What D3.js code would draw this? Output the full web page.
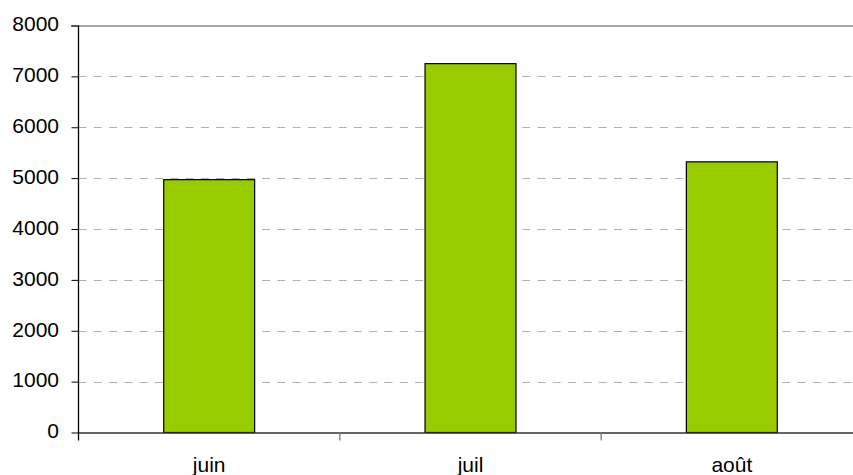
<!DOCTYPE html>
<html>
<head>
<meta charset="utf-8">
<script src="https://cdn.jsdelivr.net/npm/d3@7"></script>
<style>
  html, body { margin: 0; padding: 0; background: #fff; }
  svg { display: block; }
  text { font-family: "Liberation Sans", Arial, sans-serif; font-size: 21px; fill: #000; }
</style>
</head>
<body>
<div id="chart"></div>
<script>
// data
const months = ['juin', 'juil', 'août'];
const values = [4970, 7250, 5320];
const yTicks = [0, 1000, 2000, 3000, 4000, 5000, 6000, 7000, 8000];

let width = 853,
    height = 475,
    plotLeft = 78.5,
    plotRight = 862.5,
    plotTop = 25.5,
    plotBottom = 432.5;

let svg = d3.select('#chart')
    .append('svg')
    .attr('width', width)
    .attr('height', height);

let x = d3.scaleBand()
    .domain(months)
    .range([plotLeft, plotRight])
    .paddingInner(0.652)
    .paddingOuter(0.326);

let y = d3.scaleLinear()
    .domain([0, 8000])
    .range([plotBottom, plotTop]);

// dashed grid
svg.append('g')
    .selectAll('line')
    .data(yTicks.filter(d => d > 0 && d < 8000))
    .enter().append('line')
    .attr('x1', plotLeft)
    .attr('x2', plotRight)
    .attr('y1', d => Math.round(y(d)) + 0.5)
    .attr('y2', d => Math.round(y(d)) + 0.5)
    .attr('stroke', '#b0b0b0')
    .attr('stroke-dasharray', '8,7.3');

// top border of plot
svg.append('line')
    .attr('x1', 71)
    .attr('x2', plotRight)
    .attr('y1', plotTop + 0.5)
    .attr('y2', plotTop + 0.5)
    .attr('stroke', '#8a8a8a')
    .attr('stroke-width', 1.3);

// bars
svg.append('g')
    .selectAll('rect')
    .data(values)
    .enter().append('rect')
    .attr('x', (d, i) => x(months[i]))
    .attr('y', d => y(d))
    .attr('width', x.bandwidth())
    .attr('height', d => y(0) - y(d))
    .attr('fill', '#99cc00')
    .attr('stroke', '#000')
    .attr('stroke-width', 1.2);

// y axis
let yAxis = svg.append('g')
    .attr('transform', 'translate(' + plotLeft + ',0)')
    .call(d3.axisLeft(y).tickValues(yTicks).tickFormat(d3.format('d'))
      .tickSize(7).tickPadding(0).tickSizeOuter(0));
yAxis.select('.domain').remove();
yAxis.selectAll('.tick line').attr('stroke', '#000');
yAxis.selectAll('text')
    .attr('x', -19.5)
    .attr('dy', '0.25em')
    .style('font-size', '21px')
    .style('font-family', '"Liberation Sans", Arial, sans-serif');
svg.append('line')
    .attr('x1', plotLeft).attr('x2', plotLeft)
    .attr('y1', plotTop).attr('y2', plotBottom + 8)
    .attr('stroke', '#000')
    .attr('stroke-width', 1.3);

// x axis
let xAxis = svg.append('g')
    .attr('transform', 'translate(0,' + plotBottom + ')')
    .call(d3.axisBottom(x).tickSize(0).tickPadding(0).tickSizeOuter(0));
xAxis.select('.domain')
    .attr('stroke', '#333')
    .attr('stroke-width', 1.3);
xAxis.selectAll('text')
    .attr('y', 39.3)
    .attr('dy', 0)
    .style('font-size', '21px')
    .style('font-family', '"Liberation Sans", Arial, sans-serif');

// category separators under the axis
svg.append('g')
    .selectAll('line')
    .data(months.slice(1))
    .enter().append('line')
    .attr('x1', d => x(d) - x.step() * 0.326)
    .attr('x2', d => x(d) - x.step() * 0.326)
    .attr('y1', plotBottom)
    .attr('y2', plotBottom + 8)
    .attr('stroke', '#777')
    .attr('stroke-width', 1.3);
</script>
</body>
</html>
